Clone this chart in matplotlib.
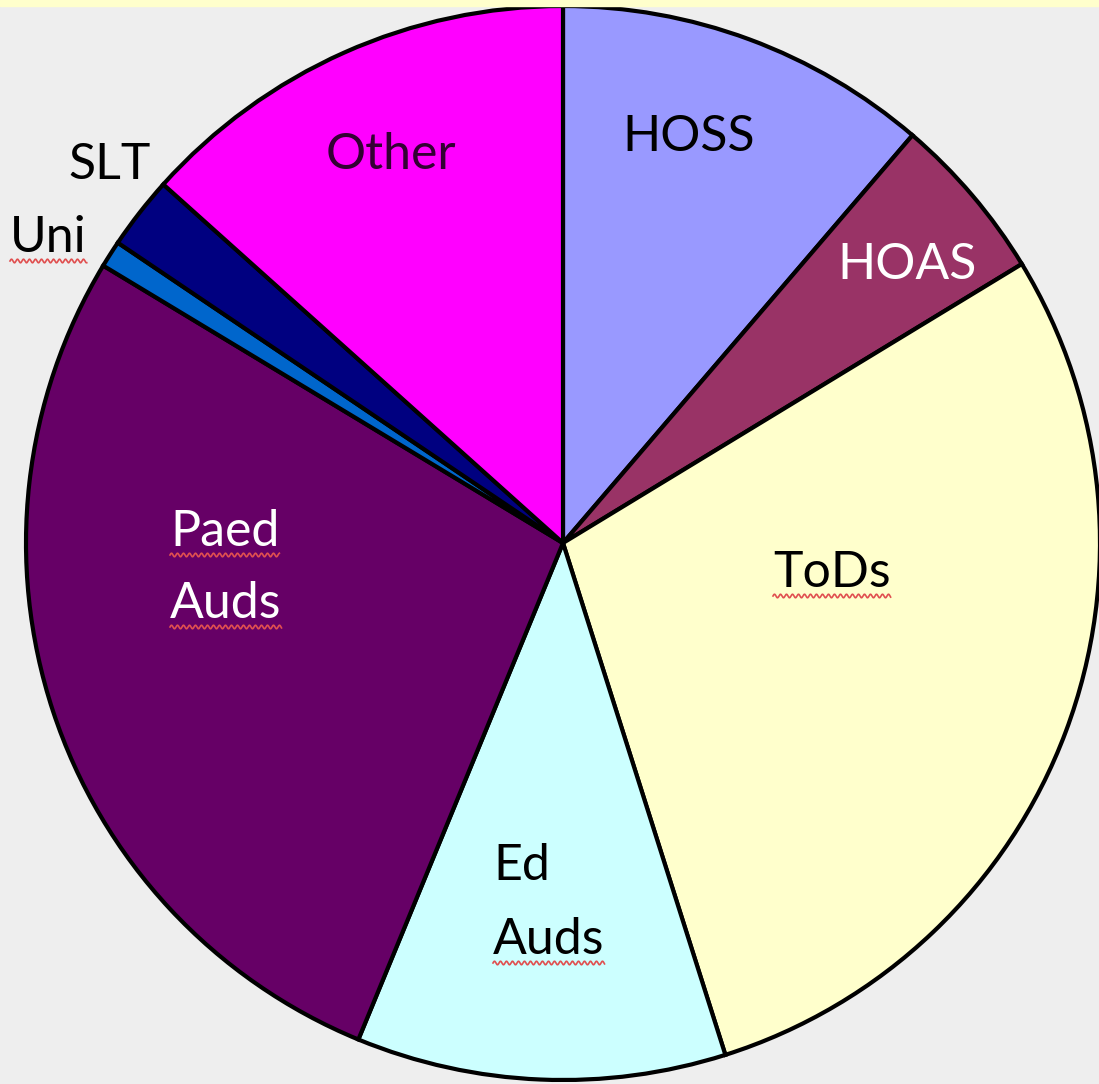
import numpy as np
import matplotlib.pyplot as plt
from matplotlib.patches import Rectangle

# slice data (clockwise from 12 o'clock)
labels = ['HOSS', 'HOAS', 'ToDs', 'Ed\nAuds', 'Paed\nAuds', 'Uni', 'SLT', 'Other']
values = [40.6, 18.1, 103.7, 40.0, 98.7, 2.9, 7.9, 48.1]
colors = ['#9999FF', '#993366', '#FFFFCC', '#CCFFFF', '#660066', '#0066CC', '#000080', '#FF00FF']

W, H = 1099, 1084
fig = plt.figure(figsize=(W/100, H/100), dpi=100)
fig.patch.set_facecolor('#EEEEEE')
ax = fig.add_axes([0, 0, 1, 1])
ax.set_facecolor('#EEEEEE')

# yellow strip across the top
fig.patches.append(Rectangle((0, 1 - 6/H), 1, 6/H, transform=fig.transFigure,
                             color='#FFFFCC', zorder=0))

cx, cy, R = 563, H - 543, 537
ax.pie(values, colors=colors, startangle=90, counterclock=False,
       center=(cx, cy), radius=R, frame=True,
       wedgeprops=dict(edgecolor='black', linewidth=3.0))
ax.set_xlim(0, W)
ax.set_ylim(0, H)
ax.set_aspect('equal')
ax.axis('off')

font = 'Lato'
fs = 36
# label text, position in pixels from top-left, colour, underlined?
lab = [
    ('HOSS', 622, 137, 'black', False),
    ('HOAS', 837, 265, 'white', False),
    ('ToDs', 773, 573, 'black', True),
    ('Ed', 493, 866, 'black', False),
    ('Auds', 493, 940, 'black', True),
    ('Paed', 170, 532, 'white', True),
    ('Auds', 170, 604, 'white', True),
    ('Uni', 10, 238, 'black', True),
    ('SLT', 68, 165, 'black', False),
    ('Other', 326, 155, '#330033', False),
]
fig.canvas.draw()
rend = fig.canvas.get_renderer()
for txt, x, y, c, ul in lab:
    t = ax.text(x, H - y, txt, color=c, fontsize=fs, family=font,
                ha='left', va='center')
    if ul:
        bb = t.get_window_extent(renderer=rend)
        xs = np.linspace(bb.x0, bb.x1, 200)
        ys = (H - y) - 23 + 1.8 * np.sin((xs - bb.x0) * 2 * np.pi / 6)
        ax.plot(xs, ys, color='#E05050', linewidth=1.2)

plt.savefig('out.png', dpi=100, facecolor=fig.get_facecolor())
